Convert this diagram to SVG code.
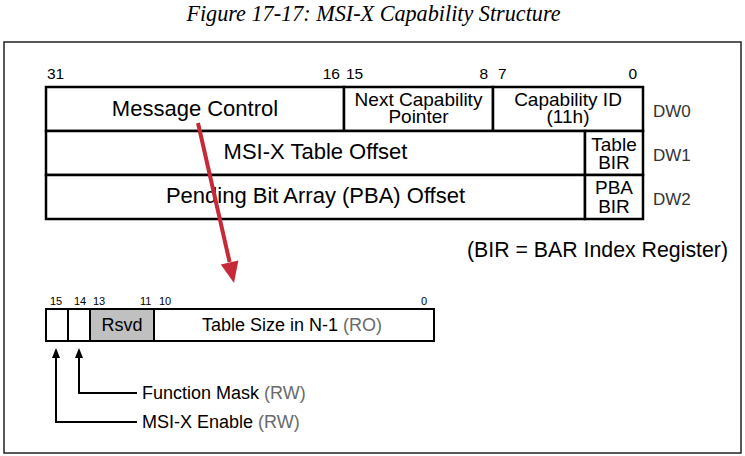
<svg xmlns="http://www.w3.org/2000/svg" width="745" height="456" viewBox="0 0 745 456">
<style>
.t{font-family:"Liberation Sans",Arial,sans-serif;fill:#000}
.c{text-anchor:middle}
.bx{fill:#fff;stroke:#000;stroke-width:2.5}
.bx2{fill:#fff;stroke:#000;stroke-width:2}
.g{fill:#6a6a6a}
.dw{fill:#333;font-size:17px}
</style>
<rect width="745" height="456" fill="#fff"/>
<text x="373.5" y="21" text-anchor="middle" font-family="Liberation Serif,serif" font-style="italic" font-size="22.2">Figure 17-17: MSI-X Capability Structure</text>
<rect x="4" y="42" width="737" height="411" fill="none" stroke="#222" stroke-width="1.5"/>

<g id="bits-top" class="t" font-size="15.5">
<text x="47" y="79">31</text>
<text x="340" y="79" text-anchor="end">16</text>
<text x="346" y="79">15</text>
<text x="488" y="79" text-anchor="end">8</text>
<text x="498" y="79">7</text>
<text x="637" y="79" text-anchor="end">0</text>
</g>

<g id="msg-control">
<rect class="bx" x="46" y="87" width="298" height="44"/>
<text class="t c" x="195" y="116" font-size="22">Message Control</text>
</g>
<g id="next-cap">
<rect class="bx" x="344" y="87" width="149" height="44"/>
<text class="t c" x="418.5" y="105.5" font-size="19">Next Capability</text>
<text class="t c" x="418.5" y="123" font-size="19">Pointer</text>
</g>
<g id="cap-id">
<rect class="bx" x="493" y="87" width="150" height="44"/>
<text class="t c" x="568" y="105.5" font-size="19">Capability ID</text>
<text class="t c" x="568" y="123" font-size="19">(11h)</text>
</g>
<g id="table-offset">
<rect class="bx" x="46" y="131" width="539" height="44"/>
<text class="t c" x="315.5" y="159" font-size="22">MSI-X Table Offset</text>
</g>
<g id="table-bir">
<rect class="bx" x="585" y="131" width="58" height="44"/>
<text class="t c" x="614" y="151" font-size="19">Table</text>
<text class="t c" x="614" y="169" font-size="19">BIR</text>
</g>
<g id="pba-offset">
<rect class="bx" x="46" y="175" width="539" height="44"/>
<text class="t c" x="315.5" y="203" font-size="22">Pending Bit Array (PBA) Offset</text>
</g>
<g id="pba-bir">
<rect class="bx" x="585" y="175" width="58" height="44"/>
<text class="t c" x="614" y="193.5" font-size="19">PBA</text>
<text class="t c" x="614" y="213" font-size="19">BIR</text>
</g>
<g id="dw-labels" class="t dw">
<text x="653" y="117">DW0</text>
<text x="653" y="160.5">DW1</text>
<text x="653" y="204.5">DW2</text>
</g>
<text id="bir-note" class="t" x="467" y="256.5" font-size="21.3">(BIR = BAR Index Register)</text>

<g id="bits-bottom" class="t" font-size="11">
<text x="50" y="305">15</text>
<text x="74" y="305">14</text>
<text x="93" y="305">13</text>
<text x="140" y="305">11</text>
<text x="159" y="305">10</text>
<text x="421" y="305">0</text>
</g>
<g id="msix-enable-bit"><rect class="bx2" x="46" y="309" width="22" height="32"/></g>
<g id="func-mask-bit"><rect class="bx2" x="68" y="309" width="22" height="32"/></g>
<g id="rsvd">
<rect x="90" y="309" width="64" height="32" fill="#c0c0c0" stroke="#000" stroke-width="2"/>
<text class="t c" x="122" y="330.5" font-size="18">Rsvd</text>
</g>
<g id="table-size">
<rect class="bx2" x="154" y="309" width="280" height="32"/>
<text class="t" x="202" y="330.5" font-size="18">Table Size in N-1 <tspan class="g">(RO)</tspan></text>
</g>
<g id="function-mask-label">
<text class="t" x="142" y="399" font-size="18">Function Mask <tspan class="g">(RW)</tspan></text>
</g>
<g id="msix-enable-label">
<text class="t" x="142" y="427.5" font-size="18">MSI-X Enable <tspan class="g">(RW)</tspan></text>
</g>

<g id="connectors">
<line x1="198" y1="123" x2="229.6" y2="262" stroke="#c62a36" stroke-width="4"/>
<polygon points="234,283 238.4,260.5 220.8,264.5" fill="#c62a36"/>
<polyline points="137,393 79,393 79,356" fill="none" stroke="#000" stroke-width="2"/>
<polygon points="79,348 75,358 83,358" fill="#000"/>
<polyline points="137,422 56,422 56,356" fill="none" stroke="#000" stroke-width="2"/>
<polygon points="56,348 52,358 60,358" fill="#000"/>
</g>
</svg>
